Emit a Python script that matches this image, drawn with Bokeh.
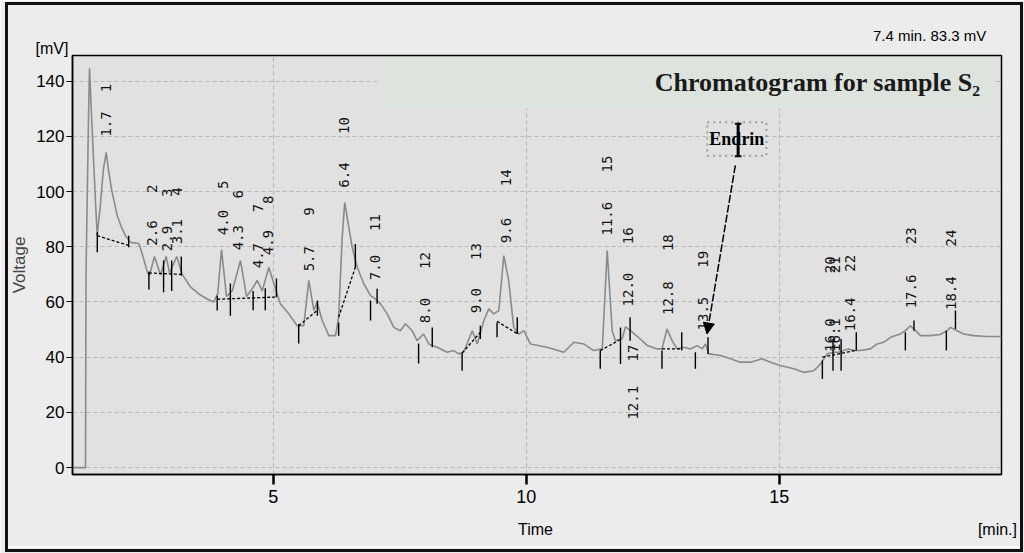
import math
from bokeh.plotting import figure
from bokeh.models import (Range1d, FixedTicker, BoxAnnotation, Label, LabelSet, Title,
                          Arrow, NormalHead, ColumnDataSource, LinearAxis, InlineStyleSheet)
from bokeh.core.properties import value
from bokeh.embed import file_html
from bokeh.resources import INLINE

# ---------------- data ----------------
time_min = [1.03, 1.287, 1.297, 1.34, 1.366, 1.405, 1.45, 1.48, 1.518, 1.58, 1.64, 1.696,
            1.74, 1.80, 1.913, 2.00, 2.077, 2.176, 2.34, 2.407, 2.506, 2.55, 2.65, 2.77,
            2.88, 2.95, 3.09, 3.198, 3.36, 3.526, 3.692, 3.82, 3.90, 3.975, 4.073, 4.186,
            4.35, 4.47, 4.58, 4.68, 4.78, 4.91, 5.01, 5.14, 5.305, 5.47, 5.60, 5.70, 5.80,
            5.865, 5.965, 6.095, 6.228, 6.29, 6.36, 6.41, 6.49, 6.558, 6.657, 6.787, 6.92,
            7.018, 7.117, 7.25, 7.38, 7.51, 7.61, 7.743, 7.84, 7.97, 8.07, 8.237, 8.435,
            8.566, 8.665, 8.76, 8.93, 9.03, 9.16, 9.257, 9.356, 9.455, 9.554, 9.65, 9.75,
            9.85, 9.95, 10.08, 10.41, 10.74, 10.94, 11.135, 11.33, 11.50, 11.597, 11.696,
            11.76, 11.89, 11.96, 12.058, 12.256, 12.39, 12.585, 12.68, 12.78, 12.88, 12.98,
            13.11, 13.24, 13.376, 13.475, 13.54, 13.605, 13.84, 14.034, 14.23, 14.43, 14.66,
            14.824, 15.02, 15.285, 15.48, 15.68, 15.81, 15.945, 16.08, 16.17, 16.27, 16.37,
            16.47, 16.60, 16.80, 16.93, 17.06, 17.196, 17.39, 17.49, 17.59, 17.69, 17.79,
            17.986, 18.18, 18.315, 18.38, 18.51, 18.64, 18.84, 19.10, 19.39]
signal_mv = [0.0, 0.0, 70.0, 120.0, 144.7, 128.0, 110.0, 98.0, 84.0, 95.0, 108.0, 114.2,
             108.0, 101.0, 91.3, 87.0, 84.0, 81.6, 81.2, 77.5, 71.0, 69.6, 76.5, 69.8,
             76.5, 70.5, 76.5, 70.0, 65.5, 62.9, 61.1, 60.0, 63.0, 79.0, 62.0, 64.0,
             75.0, 62.0, 64.7, 67.8, 64.0, 72.6, 66.6, 59.3, 55.7, 51.4, 51.4, 67.8, 57.0,
             60.0, 53.3, 47.8, 47.8, 54.5, 83.4, 96.1, 87.1, 79.8, 72.6, 66.6, 62.3,
             61.1, 59.3, 55.7, 50.8, 49.6, 52.1, 49.6, 46.0, 48.4, 44.8, 43.6, 41.8,
             42.4, 41.2, 41.8, 49.6, 44.8, 53.3, 57.5, 55.7, 56.9, 76.8, 67.8, 50.8,
             48.4, 49.6, 44.8, 43.6, 41.8, 45.4, 44.8, 42.4, 43.0, 78.6, 49.6,
             46.0, 46.6, 51.0, 49.6, 46.5, 44.2, 43.0, 43.0, 50.2, 46.0, 43.0,
             43.6, 43.0, 44.2, 43.0, 44.8, 41.2, 40.6, 39.4, 38.2, 38.2, 39.4,
             38.2, 37.0, 35.8, 34.5, 35.1, 37.5, 41.2, 41.8, 41.8, 42.4, 43.0,
             42.4, 42.4, 43.0, 44.8, 45.4, 47.2, 48.4, 49.6, 51.4, 49.6, 47.8,
             47.8, 48.2, 49.6, 50.8, 49.6, 48.4, 47.8, 47.5, 47.5]

peak_numbers = ["1", "2", "3", "4", "5", "6", "7", "8", "9", "10", "11", "12",
                "13", "14", "15", "16", "17", "18", "19", "20", "21", "22", "23", "24"]
peak_times = [1.7, 2.6, 2.9, 3.1, 4.0, 4.3, 4.7, 4.9, 5.7, 6.4, 7.0, 8.0,
              9.0, 9.6, 11.6, 12.0, 12.1, 12.8, 13.5, 16.0, 16.1, 16.4, 17.6, 18.4]
peak_time_text = ["1.7", "2.6", "2.9", "3.1", "4.0", "4.3", "4.7", "4.9", "5.7", "6.4",
                  "7.0", "8.0", "9.0", "9.6", "11.6", "12.0", "12.1", "12.8", "13.5",
                  "16.0", "16.1", "16.4", "17.6", "18.4"]
number_label_mv = [137.5, 101.0, 99.6, 100.0, 102.5, 99.0, 94.0, 97.0, 92.8, 123.9, 88.8, 75.0,
                   78.3, 105.0, 110.0, 84.0, 41.5, 81.5, 75.5, 73.5, 73.5, 74.0, 84.0, 83.2]
time_label_mv = [124.5, 85.0, 83.0, 85.5, 88.8, 83.3, 76.8, 81.5, 75.7, 106.0, 72.5, 56.9,
                 60.5, 85.9, 90.2, 64.5, 23.5, 61.4, 55.8, 48.0, 48.0, 55.5, 63.8, 63.2]

# peak start / end markers (time, upper mV, lower mV)
marker_t = [1.52, 2.14, 2.54, 2.83, 2.99, 3.18, 3.89, 4.15, 4.60, 4.84, 5.06, 5.50, 5.87,
            6.29, 6.62, 6.92, 7.05, 7.87, 8.14, 8.73, 9.09, 9.42, 9.82, 11.46, 11.86, 12.05,
            12.68, 13.07, 13.34, 13.59, 15.85, 16.06, 16.22, 16.52, 17.49, 17.66, 18.30, 18.48]
marker_top = [85.3, 84.0, 71.0, 75.0, 75.0, 76.5, 62.3, 66.7, 64.0, 65.0, 68.5, 52.0, 60.5,
              52.6, 81.0, 60.5, 64.8, 45.0, 50.8, 41.4, 51.4, 52.6, 54.5, 42.4, 50.8, 54.5,
              42.4, 49.0, 41.8, 47.2, 38.8, 46.6, 46.6, 49.0, 49.0, 53.3, 49.6, 56.9]
marker_bot = [78.0, 79.8, 64.5, 63.5, 64.0, 69.5, 56.9, 55.0, 57.0, 57.0, 61.7, 45.0, 55.0,
              47.8, 72.5, 53.3, 59.4, 37.7, 43.6, 35.1, 46.6, 47.2, 48.4, 35.8, 37.5, 46.0,
              35.8, 42.4, 35.8, 41.2, 32.1, 35.1, 35.1, 42.4, 42.4, 49.6, 42.4, 50.2]

# dashed baselines (start time, start mV, end time, end mV)
base_t0 = [1.52, 2.54, 3.89, 5.50, 6.29, 8.73, 9.42, 11.46, 12.68, 15.85]
base_v0 = [84.0, 70.5, 61.0, 51.4, 54.5, 41.5, 53.0, 42.4, 43.0, 40.0]
base_t1 = [2.14, 3.18, 5.06, 5.87, 6.62, 9.09, 9.82, 11.87, 13.07, 16.52]
base_v1 = [80.5, 70.0, 61.8, 57.0, 72.6, 49.0, 48.5, 46.5, 43.0, 42.5]

y_ticks = [0, 20, 40, 60, 80, 100, 120, 140]
x_ticks = [5, 10, 15]
x_name_pos = [10.18, 19.31]
x_name_text = ["Time", "[min.]"]

# ---------------- figure ----------------
p = figure(width=1024, height=553, output_backend="svg", toolbar_location=None,
           title=None,
           x_range=Range1d(1.03, 19.39), y_range=Range1d(-2.5, 149.3),
           min_border_left=72, min_border_right=23, min_border_top=55,
           min_border_bottom=79)
p.background_fill_color = "#e1e1e1"
p.border_fill_color = "#ececec"
p.outline_line_color = "black"
p.outline_line_width = 1.5
p.stylesheets = [InlineStyleSheet(css=(
    ":host { position: relative; }"
    ":host::after { content: ''; position: absolute; left: 5px; top: 2px; right: 1px;"
    " bottom: 1px; border: 3px solid #111; pointer-events: none; z-index: 100; }"
    ":host::before { content: ''; position: absolute; left: 8px; right: 4px; bottom: 5px;"
    " height: 2px; background: #fbfbfb; pointer-events: none; z-index: 99; }"))]

sans = "Liberation Sans"
for ax in (p.xaxis[0], p.yaxis[0]):
    ax.axis_line_color = "black"
    ax.axis_line_width = 1.5
    ax.major_tick_line_color = "black"
    ax.minor_tick_line_color = None
    ax.major_tick_in = 0
    ax.major_label_text_color = "black"
    ax.major_label_text_font = sans
p.xaxis.ticker = FixedTicker(ticks=x_ticks)
p.yaxis.ticker = FixedTicker(ticks=y_ticks)
p.xaxis.major_label_text_font_size = "18px"
p.xaxis.major_tick_out = 10
p.xaxis.major_tick_line_width = 2.5
p.xaxis.major_label_standoff = 5
p.yaxis.major_label_text_font_size = "17px"
p.yaxis.major_tick_out = 6
p.yaxis.major_tick_line_width = 1.2
p.yaxis.major_label_standoff = 2
p.yaxis.axis_label = "Voltage"
p.yaxis.axis_label_text_font = sans
p.yaxis.axis_label_text_font_size = "17px"
p.yaxis.axis_label_text_font_style = "normal"
p.yaxis.axis_label_standoff = 4

# second row under the time axis: axis name and unit
name_axis = LinearAxis(ticker=FixedTicker(ticks=x_name_pos),
                       major_label_overrides={k: v for k, v in zip(x_name_pos, x_name_text)},
                       axis_line_color=None, major_tick_line_color=None,
                       minor_tick_line_color=None, major_label_standoff=9,
                       major_label_text_font=sans, major_label_text_font_size="16px",
                       major_label_text_color="black")
p.add_layout(name_axis, "below")

# texts above the frame
p.add_layout(Title(text="[mV]", align="left", offset=-37, standoff=-3,
                   text_font=sans, text_font_size="16px", text_font_style="normal",
                   text_color="black"), "above")
p.add_layout(Title(text="7.4 min.  83.3 mV", align="right", offset=11, standoff=-9,
                   text_font=sans, text_font_size="15px", text_font_style="normal",
                   text_color="black"), "above")

p.xgrid.ticker = FixedTicker(ticks=x_ticks)
p.ygrid.ticker = FixedTicker(ticks=y_ticks)
for g in (p.xgrid[0], p.ygrid[0]):
    g.grid_line_color = "#b8b8b8"
    g.grid_line_dash = "4 3"
    g.grid_line_width = 1.2

# title box
p.add_layout(BoxAnnotation(left=7.12, right=19.23, bottom=130.1, top=148.6,
                           fill_color="#dde3dd", fill_alpha=1.0, line_color=None,
                           level="underlay"))

# trace
p.line(time_min, signal_mv, line_color="#8a8a8a", line_width=1.6)

# baselines
p.multi_line([[a, b] for a, b in zip(base_t0, base_t1)],
             [[a, b] for a, b in zip(base_v0, base_v1)],
             line_color="black", line_width=1.3, line_dash="3 2")

# peak boundary markers
p.segment(x0=marker_t, y0=marker_bot, x1=marker_t, y1=marker_top,
          line_color="black", line_width=1.4)

# peak labels
src = ColumnDataSource(dict(t=peak_times, num=peak_numbers, num_y=number_label_mv,
                            rt=peak_time_text, rt_y=time_label_mv))
common = dict(source=src, angle=math.pi / 2, text_align="center", text_baseline="middle",
              text_font=value("DejaVu Sans Mono"), text_font_size="14px",
              text_color="#111111")
p.add_layout(LabelSet(x="t", y="num_y", text="num", **common))
p.add_layout(LabelSet(x="t", y="rt_y", text="rt", **common))

# Endrin annotation
p.add_layout(BoxAnnotation(left=13.574, right=14.745, bottom=113.0, top=125.1,
                           fill_alpha=0.0, line_color="black", line_width=2,
                           line_dash="dotted"))
p.add_layout(Label(x=14.16, y=119.0, text="Endrin", text_align="center",
                   text_baseline="middle", text_font="Liberation Serif",
                   text_font_style="bold", text_font_size="18px", text_color="black"))
cur_t = 14.185
p.segment(x0=[cur_t, cur_t - 0.065, cur_t - 0.065], y0=[112.8, 124.6, 112.8],
          x1=[cur_t, cur_t + 0.065, cur_t + 0.065], y1=[124.6, 124.6, 112.8],
          line_color="black", line_width=[3, 2, 2])
p.add_layout(Arrow(x_start=14.13, y_start=109.5, x_end=13.57, y_end=48.4,
                   line_color="black", line_width=1.5, line_dash="8 2",
                   end=NormalHead(size=11, fill_color="black", line_color="black")))

# chart heading inside the frame
p.add_layout(Label(x=18.975, y=139.5, text="Chromatogram for sample S\u2082",
                   text_align="right", text_baseline="middle",
                   text_font="Liberation Serif", text_font_style="bold",
                   text_font_size="26px", text_color="#1a1a1a"))

open("out.html", "w").write(file_html(p, INLINE))
